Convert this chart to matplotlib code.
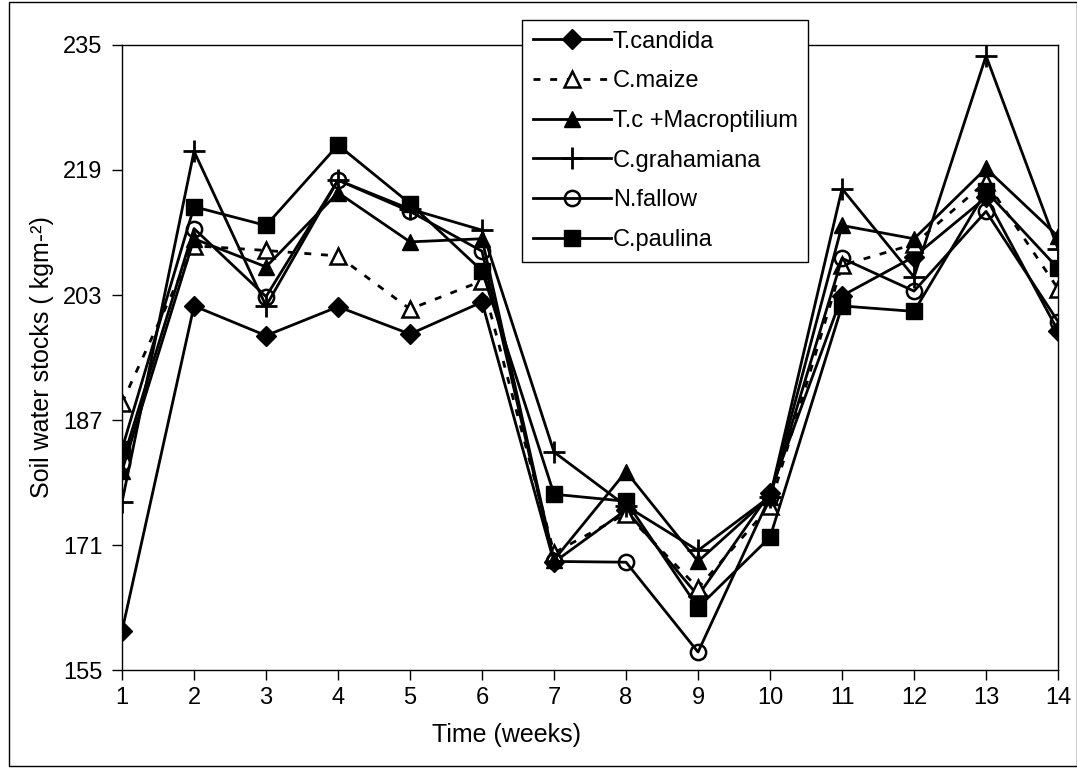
import matplotlib
matplotlib.use("Agg")
import matplotlib.pyplot as plt
from matplotlib.patches import Rectangle

plt.rcParams['font.family'] = ['Liberation Sans', 'DejaVu Sans']

weeks = list(range(1, 15))

# soil water stocks (kg m-2)
t_candida = [160.0, 201.6, 197.8, 201.5, 198.0, 202.1, 168.8, 175.5, 164.5, 177.7, 202.9, 207.9, 215.5, 198.4]
c_maize = [189.2, 209.3, 208.7, 208.0, 201.2, 204.8, 170.0, 175.0, 165.5, 176.0, 206.8, 209.5, 217.5, 203.8]
tc_macroptilium = [180.5, 210.2, 206.6, 216.1, 209.8, 210.2, 169.1, 180.4, 168.9, 177.2, 211.9, 210.2, 219.2, 210.5]
c_grahamiana = [176.5, 221.4, 201.6, 217.7, 214.0, 211.3, 182.9, 176.0, 170.3, 177.2, 216.6, 205.3, 233.6, 208.9]
n_fallow = [181.5, 211.5, 202.8, 217.7, 213.7, 208.6, 168.9, 168.8, 157.3, 177.2, 207.7, 203.5, 213.7, 199.6]
c_paulina = [183.3, 214.3, 211.9, 222.2, 214.7, 206.1, 177.5, 176.6, 163.0, 172.0, 201.6, 200.9, 216.3, 206.4]

y_ticks = [155, 171, 187, 203, 219, 235]


def main():
    fig = plt.figure(figsize=(10.77, 7.69), dpi=100)
    ax = fig.add_axes([0.1133, 0.1287, 0.8691, 0.8128])

    # frame around the whole figure
    fig.patches.append(Rectangle((0.008, 0.004), 0.992, 0.994, transform=fig.transFigure,
                                 fill=False, edgecolor='black', linewidth=1.0))

    lw = 2.0
    ax.plot(weeks, t_candida, color='black', lw=lw, marker='D', markersize=10,
            label='T.candida')
    ax.plot(weeks, c_maize, color='black', lw=lw, linestyle=(0, (2.5, 3.5)), marker='^',
            markersize=11, markerfacecolor='white', markeredgewidth=1.8, label='C.maize')
    ax.plot(weeks, tc_macroptilium, color='black', lw=lw, marker='^', markersize=12,
            label='T.c +Macroptilium')
    ax.plot(weeks, c_grahamiana, color='black', lw=lw, marker='+', markersize=16,
            markeredgewidth=2.0, label='C.grahamiana')
    ax.plot(weeks, n_fallow, color='black', lw=lw, marker='o', markersize=11,
            markerfacecolor='none', markeredgewidth=1.8, label='N.fallow')
    ax.plot(weeks, c_paulina, color='black', lw=lw, marker='s', markersize=11,
            label='C.paulina')

    ax.set_xlim(1, 14)
    ax.set_ylim(155, 235)
    ax.set_xticks(weeks)
    ax.set_yticks(y_ticks)
    ax.tick_params(direction='out', length=7, width=1, labelsize=17, pad=7)
    ax.tick_params(axis='x', pad=5)
    for s in ax.spines.values():
        s.set_linewidth(1.0)
    ax.set_xlabel('Time (weeks)', fontsize=18)
    ax.xaxis.set_label_coords(0.411, -0.085)
    ax.set_ylabel('Soil water stocks ( kgm-²)', fontsize=18)
    ax.yaxis.set_label_coords(-0.073, 0.5)

    leg = ax.legend(loc='upper left', bbox_to_anchor=(0.4847, 0.974),
                    bbox_transform=fig.transFigure, fontsize=17, frameon=True,
                    fancybox=False, framealpha=1, edgecolor='black',
                    handlelength=3.3, handletextpad=0.1, labelspacing=0.75,
                    borderpad=0.45, borderaxespad=0)
    leg.get_frame().set_linewidth(1.0)

    fig.savefig('out.png', dpi=100)


if __name__ == '__main__':
    main()
